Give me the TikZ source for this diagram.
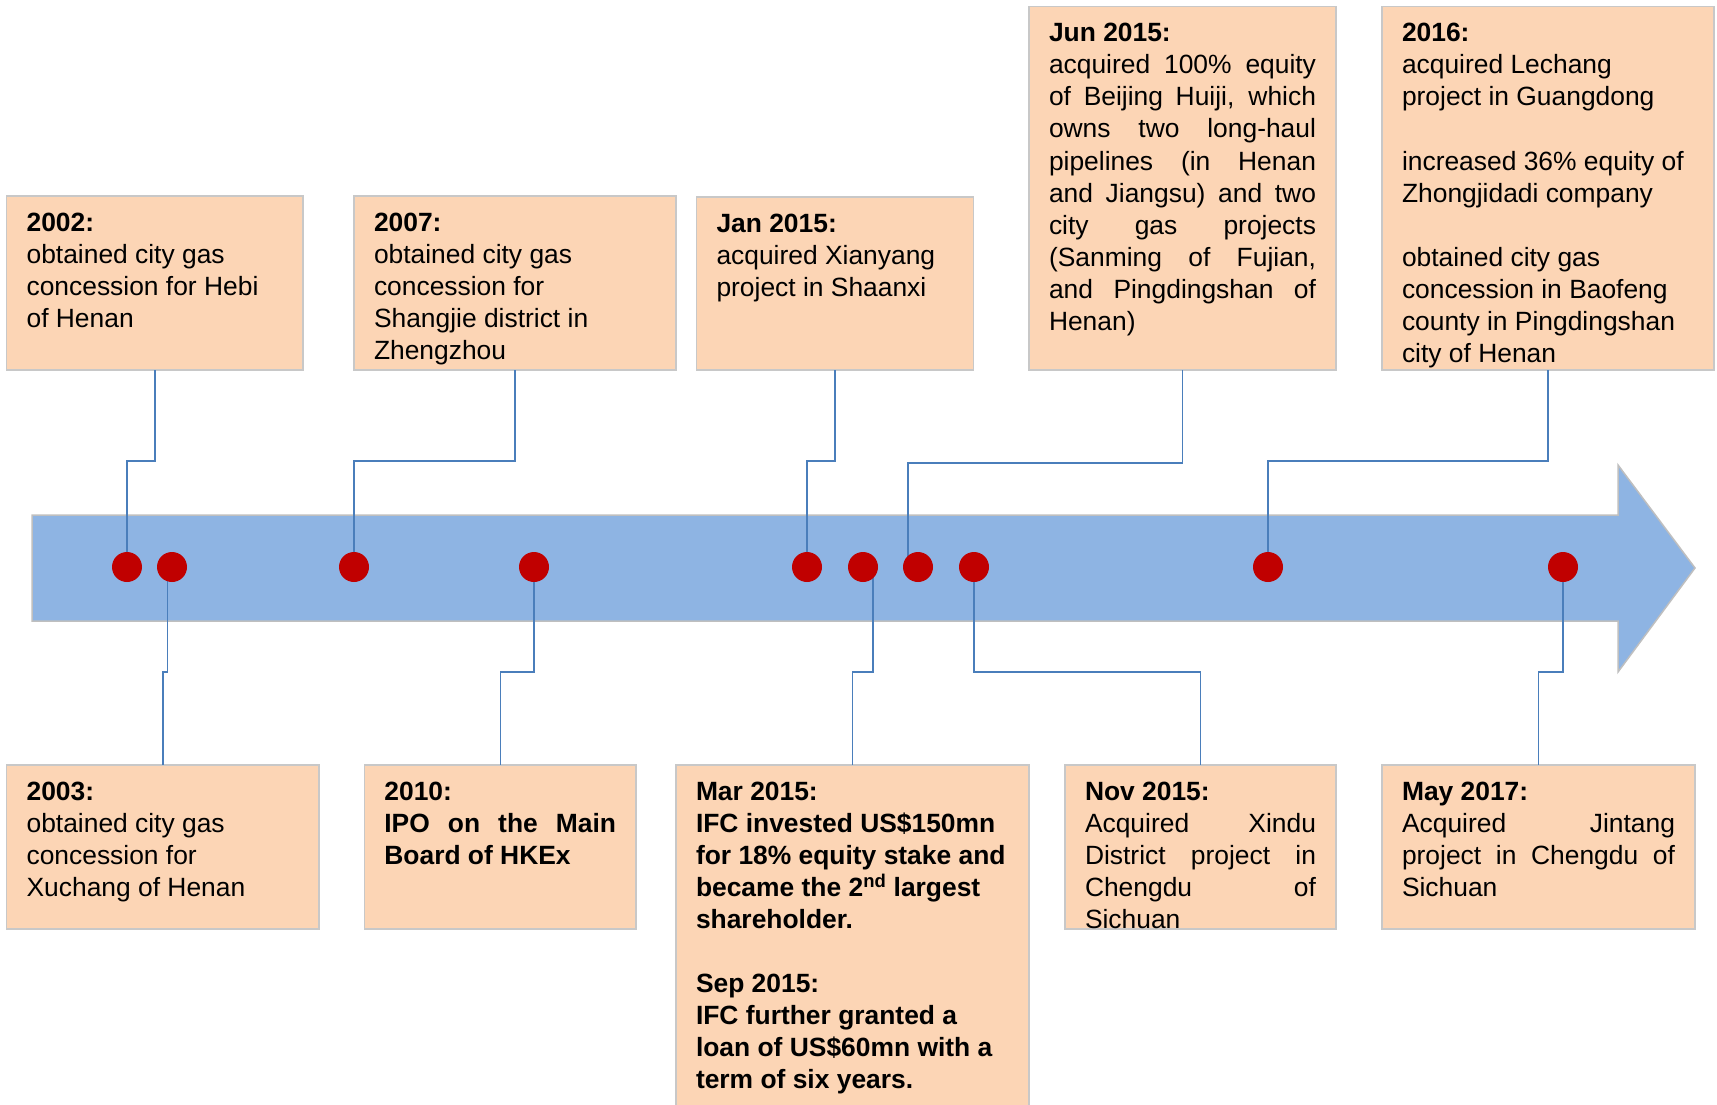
\documentclass[tikz,border=0pt]{standalone}
\usepackage{fontspec}
\setmainfont{Liberation Sans}
\setlength{\parindent}{0pt}
\definecolor{boxfill}{HTML}{FCD5B5}
\definecolor{boxline}{HTML}{C8C8C8}
\definecolor{arrowfill}{HTML}{8EB4E3}
\definecolor{arrowline}{HTML}{BFBFBF}
\definecolor{dotred}{HTML}{C00000}
\definecolor{connblue}{HTML}{4A7EBB}
\newcommand{\jline}[2]{\makebox[#1][s]{#2}}
\newcommand{\fl}{\rule{0pt}{24pt}}
\begin{document}
\begin{tikzpicture}[x=1pt,y=-1pt,
  boxnode/.style={draw=boxline, line width=1.2pt, fill=boxfill, inner sep=0pt, outer sep=0pt, anchor=north west},
  txt/.style={anchor=north west, inner sep=0pt, outer sep=0pt, align=flush left, font=\fontsize{26.4}{32.1}\selectfont},
  dot/.style={circle, fill=dotred, draw=none, minimum size=30pt, inner sep=0pt},
  conn/.style={draw=connblue, line width=1.4pt}]
\useasboundingbox (0,0) rectangle (1717,1105);

% timeline arrow
\draw[fill=arrowfill, draw=arrowline, line width=1.5pt]
  (32,515) -- (1618,515) -- (1618,465) -- (1695,568) -- (1618,672) -- (1618,621) -- (32,621) -- cycle;

% dots (positions)
\coordinate (d1) at (127,567);
\coordinate (d2) at (172,567);
\coordinate (d3) at (354,567);
\coordinate (d4) at (534,567);
\coordinate (d5) at (807,567);
\coordinate (d6) at (863,567);
\coordinate (d7) at (918,567);
\coordinate (d8) at (974,567);
\coordinate (d9) at (1268,567);
\coordinate (d10) at (1563,567);
\coordinate (e2) at (167.5,567);
\coordinate (e6) at (873,567);
\coordinate (e7) at (908,567);

% boxes
\node[boxnode, minimum width=296.4pt, minimum height=174pt] (b02) at (6.6,196) {};
\node[boxnode, minimum width=322pt, minimum height=174pt] (b07) at (354,196) {};
\node[boxnode, minimum width=277pt, minimum height=173pt] (bj15) at (696.5,197) {};
\node[boxnode, minimum width=307pt, minimum height=363.3pt] (bjun) at (1029,6.7) {};
\node[boxnode, minimum width=332pt, minimum height=363.3pt] (b16) at (1382,6.7) {};
\node[boxnode, minimum width=312.4pt, minimum height=164pt] (b03) at (6.6,765) {};
\node[boxnode, minimum width=271.6pt, minimum height=164pt] (b10) at (364.4,765) {};
\node[boxnode, minimum width=353pt, minimum height=350pt] (bmar) at (676,765) {};
\node[boxnode, minimum width=271pt, minimum height=164pt] (bnov) at (1065,765) {};
\node[boxnode, minimum width=313pt, minimum height=164pt] (bmay) at (1382,765) {};

% connectors
\draw[conn] (b02.south) |- (d1 |- 0,461) -- (d1);
\draw[conn] (b07.south) |- (d3 |- 0,461) -- (d3);
\draw[conn] (bj15.south) |- (d5 |- 0,461) -- (d5);
\draw[conn] (bjun.south) |- (e7 |- 0,463) -- (e7);
\draw[conn] (b16.south) |- (d9 |- 0,461) -- (d9);
\draw[conn] (e2) |- (b03.north |- 0,672) -- (b03.north);
\draw[conn] (d4) |- (b10.north |- 0,672) -- (b10.north);
\draw[conn] (e6) |- (bmar.north |- 0,672) -- (bmar.north);
\draw[conn] (d8) |- (bnov.north |- 0,672) -- (bnov.north);
\draw[conn] (d10) |- (bmay.north |- 0,672) -- (bmay.north);

% dots drawn over connectors
\foreach \i in {1,...,10} { \node[dot] (dot\i) at (d\i) {}; }

% texts
\node[txt, text width=270pt] (t02) at (26.6,207) {\fl\textbf{2002:}\\obtained city gas\\concession for Hebi\\of Henan};
\node[txt, text width=295pt] (t07) at (374,207) {\fl\textbf{2007:}\\obtained city gas\\concession for\\Shangjie district in\\Zhengzhou};
\node[txt, text width=250pt] (tj15) at (716.5,208) {\fl\textbf{Jan 2015:}\\acquired Xianyang\\project in Shaanxi};
\node[txt, text width=267pt] (tjun) at (1049,17.7) {\fl\textbf{Jun 2015:}\\
  \jline{267pt}{acquired 100\% equity}\\
  \jline{267pt}{of Beijing Huiji, which}\\
  \jline{267pt}{owns two long-haul}\\
  \jline{267pt}{pipelines (in Henan}\\
  \jline{267pt}{and Jiangsu) and two}\\
  \jline{267pt}{city gas projects}\\
  \jline{267pt}{(Sanming of Fujian,}\\
  \jline{267pt}{and Pingdingshan of}\\
  Henan)};
\node[txt, text width=305pt] (t16) at (1402,17.7) {\fl\textbf{2016:}\\acquired Lechang\\project in Guangdong\\ \mbox{}\\increased 36\% equity of\\Zhongjidadi company\\ \mbox{}\\obtained city gas\\concession in Baofeng\\county in Pingdingshan\\city of Henan};
\node[txt, text width=290pt] (t03) at (26.6,776) {\fl\textbf{2003:}\\obtained city gas\\concession for\\Xuchang of Henan};
\node[txt, text width=231.6pt] (t10) at (384.4,776) {\bfseries\fl 2010:\\ \jline{231.6pt}{IPO on the Main}\\ Board of HKEx};
\node[txt, text width=330pt] (tmar) at (696,776) {\bfseries\fl Mar 2015:\\IFC invested US\$150mn\\for 18\% equity stake and\\became the 2\textsuperscript{nd} largest\\shareholder.\\ \mbox{}\\Sep 2015:\\IFC further granted a\\loan of US\$60mn with a\\term of six years.};
\node[txt, text width=231pt] (tnov) at (1085,776) {\fl\textbf{Nov 2015:}\\
  \jline{231pt}{Acquired Xindu}\\
  \jline{231pt}{District project in}\\
  \jline{231pt}{Chengdu of}\\
  Sichuan};
\node[txt, text width=273pt] (tmay) at (1402,776) {\fl\textbf{May 2017:}\\
  \jline{273pt}{Acquired Jintang}\\
  \jline{273pt}{project in Chengdu of}\\
  Sichuan};
\end{tikzpicture}
\end{document}
